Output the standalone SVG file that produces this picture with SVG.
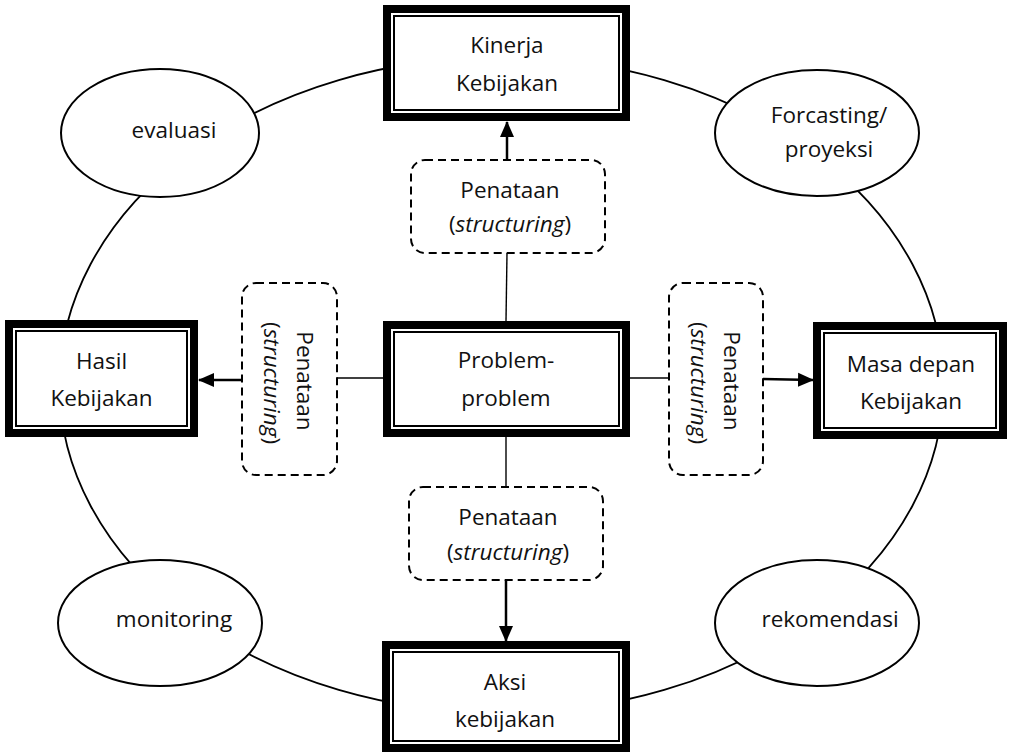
<svg xmlns="http://www.w3.org/2000/svg" width="1012" height="756" viewBox="0 0 1012 756">
  <style>
    .lbl { font-family: "Open Sans", "Noto Sans", "Liberation Sans", sans-serif; font-size: 22.5px; fill: #111; text-anchor: middle; }
    .it { font-style: italic; }
    .thick { fill: #fff; stroke: #000; stroke-width: 8; }
    .thin { fill: none; stroke: #000; stroke-width: 2; }
    .oval { fill: #fff; stroke: #000; stroke-width: 2; }
    .dash { fill: #fff; stroke: #000; stroke-width: 2; stroke-dasharray: 8 5; }
    .conn { fill: none; stroke: #000; stroke-width: 1.4; }
    .arrow { fill: none; stroke: #000; stroke-width: 2.5; marker-end: url(#head); }
  </style>
  <defs>
    <marker id="head" markerUnits="userSpaceOnUse" markerWidth="16" markerHeight="16" viewBox="0 0 16 16" refX="15" refY="8" orient="auto">
      <path d="M0,1 L16,8 L0,15 Z" fill="#000"/>
    </marker>
  </defs>

  <rect width="1012" height="756" fill="#fff"/>

  <!-- cycle ring behind the nodes -->
  <ellipse id="cycle" cx="501.5" cy="385" rx="442" ry="328" fill="none" stroke="#000" stroke-width="1.8"/>

  <!-- connectors -->
  <g id="connectors">
    <line class="conn" x1="507" y1="253" x2="506" y2="321"/>
    <line class="arrow" x1="507" y1="160" x2="507" y2="122"/>
    <line class="conn" x1="506" y1="437" x2="506" y2="487"/>
    <line class="arrow" x1="506" y1="580" x2="506" y2="641"/>
    <line class="conn" x1="383" y1="378" x2="337" y2="378"/>
    <line class="arrow" x1="242" y1="380" x2="199" y2="380"/>
    <line class="conn" x1="630" y1="378" x2="669" y2="378"/>
    <line class="arrow" x1="763" y1="379" x2="813" y2="380"/>
  </g>

  <!-- main boxes: thick outer frame with thin inner rule -->
  <g id="kinerja">
    <rect class="thick" x="387" y="9" width="239" height="108"/>
    <rect class="thin" x="394" y="16" width="225" height="94"/>
    <text class="lbl" x="507" y="53">Kinerja</text>
    <text class="lbl" x="507" y="91">Kebijakan</text>
  </g>
  <g id="problem">
    <rect class="thick" x="387" y="325" width="239" height="108"/>
    <rect class="thin" x="394" y="332" width="225" height="94"/>
    <text class="lbl" x="506" y="368">Problem-</text>
    <text class="lbl" x="506" y="406">problem</text>
  </g>
  <g id="hasil">
    <rect class="thick" x="9" y="324" width="185" height="109"/>
    <rect class="thin" x="16" y="331" width="171" height="95"/>
    <text class="lbl" x="101.5" y="369">Hasil</text>
    <text class="lbl" x="101.5" y="406">Kebijakan</text>
  </g>
  <g id="masa-depan">
    <rect class="thick" x="817" y="326" width="186" height="109"/>
    <rect class="thin" x="824" y="333" width="172" height="95"/>
    <text class="lbl" x="911" y="372">Masa depan</text>
    <text class="lbl" x="911" y="409">Kebijakan</text>
  </g>
  <g id="aksi">
    <rect class="thick" x="386" y="645" width="240" height="103"/>
    <rect class="thin" x="393" y="652" width="226" height="89"/>
    <text class="lbl" x="505" y="690">Aksi</text>
    <text class="lbl" x="505" y="727">kebijakan</text>
  </g>

  <!-- process ovals -->
  <g id="evaluasi">
    <ellipse class="oval" cx="160" cy="133" rx="99" ry="64"/>
    <text class="lbl" x="174" y="138">evaluasi</text>
  </g>
  <g id="forcasting">
    <ellipse class="oval" cx="817" cy="133" rx="102" ry="63"/>
    <text class="lbl" x="829" y="123">Forcasting/</text>
    <text class="lbl" x="829" y="157">proyeksi</text>
  </g>
  <g id="monitoring">
    <ellipse class="oval" cx="160" cy="623" rx="102" ry="63"/>
    <text class="lbl" x="174" y="627">monitoring</text>
  </g>
  <g id="rekomendasi">
    <ellipse class="oval" cx="817" cy="623" rx="102" ry="63"/>
    <text class="lbl" x="830" y="627">rekomendasi</text>
  </g>

  <!-- structuring steps (dashed) -->
  <g id="penataan-atas">
    <rect class="dash" x="411" y="160" width="194" height="93" rx="14"/>
    <text class="lbl" x="510" y="198">Penataan</text>
    <text class="lbl" x="510" y="232">(<tspan class="it">structuring</tspan>)</text>
  </g>
  <g id="penataan-bawah">
    <rect class="dash" x="409" y="487" width="194" height="93" rx="14"/>
    <text class="lbl" x="508" y="525">Penataan</text>
    <text class="lbl" x="508" y="560">(<tspan class="it">structuring</tspan>)</text>
  </g>
  <g id="penataan-kiri">
    <rect class="dash" x="242" y="283" width="95" height="192" rx="14"/>
    <text class="lbl" transform="translate(297,381) rotate(90)">Penataan</text>
    <text class="lbl" transform="translate(264,383) rotate(90)">(<tspan class="it">structuring</tspan>)</text>
  </g>
  <g id="penataan-kanan">
    <rect class="dash" x="669" y="283" width="94" height="192" rx="14"/>
    <text class="lbl" transform="translate(724,381) rotate(90)">Penataan</text>
    <text class="lbl" transform="translate(691,383) rotate(90)">(<tspan class="it">structuring</tspan>)</text>
  </g>
</svg>
